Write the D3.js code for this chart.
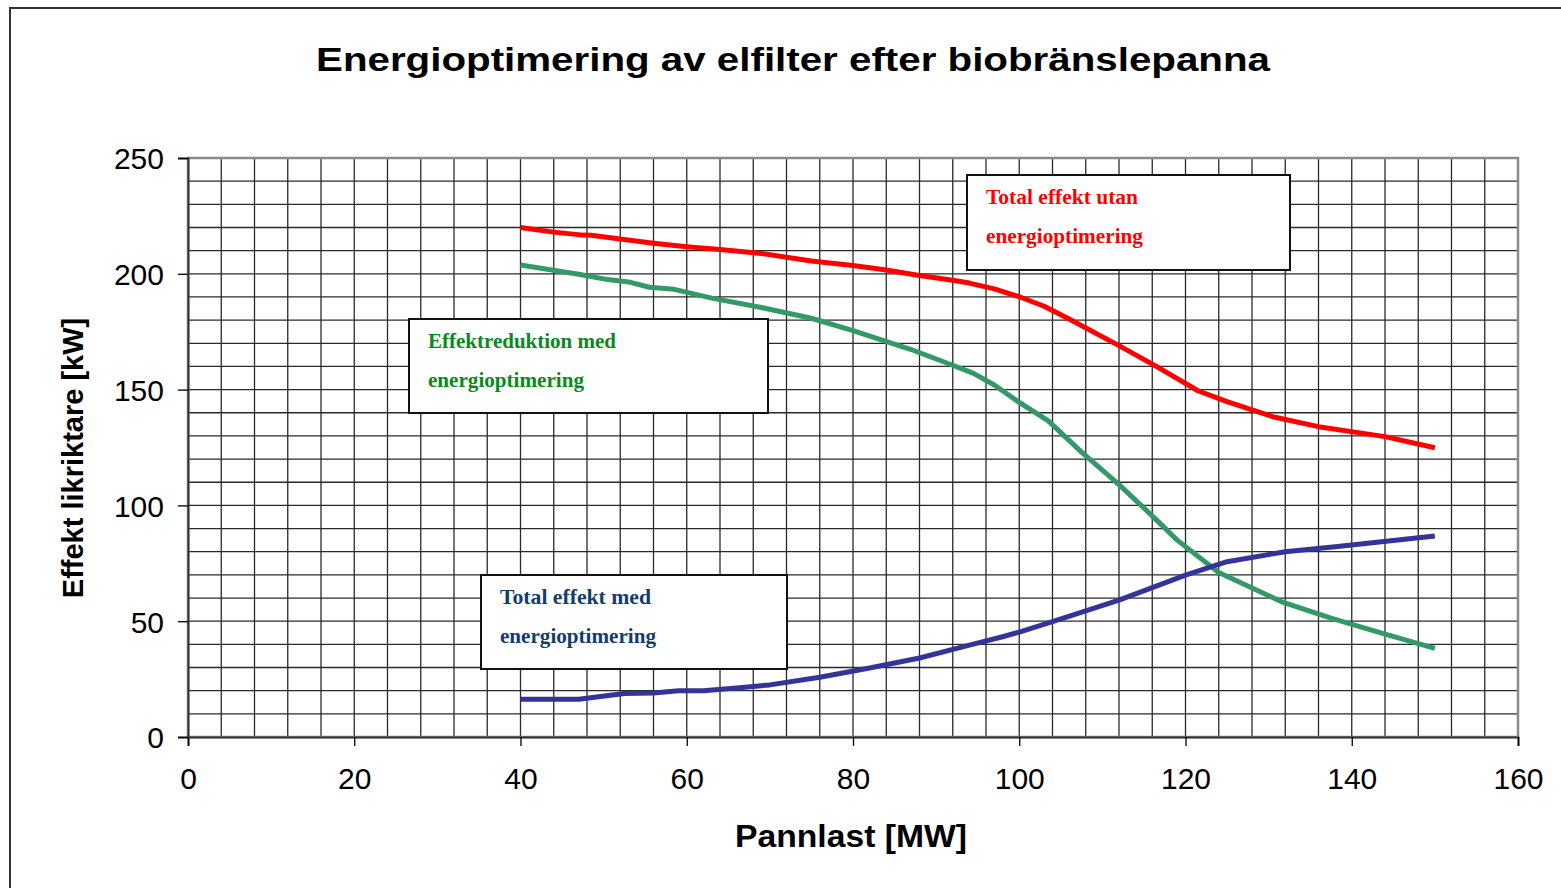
<!DOCTYPE html>
<html>
<head>
<meta charset="utf-8">
<script src="https://cdn.jsdelivr.net/npm/d3@7/dist/d3.min.js"></script>
<style>
  html, body { margin: 0; padding: 0; background: #fff; }
  svg { display: block; }
</style>
</head>
<body>
<svg id="chart" width="1561" height="888"></svg>
<script>
// ---- Data ----
const title = "Energioptimering av elfilter efter biobränslepanna";
const xTitle = "Pannlast [MW]";
const yTitle = "Effekt likriktare [kW]";
const xTicks = [0, 20, 40, 60, 80, 100, 120, 140, 160];
const yTicks = [0, 50, 100, 150, 200, 250];

const redName = ["Total effekt utan", "energioptimering"];
const redX = [40, 44, 47.5, 48.5, 52, 56, 60, 64, 69, 75, 80, 84, 88, 92, 94, 97, 100, 103, 106, 112, 116.5, 121.5, 125, 130.5, 136, 144, 150];
const redY = [220, 218, 216.7, 216.6, 215, 213.2, 211.7, 210.5, 208.8, 205.5, 203.6, 201.6, 199.3, 197.2, 196, 193.5, 190.1, 186, 180.5, 169, 160, 149.5, 144.8, 138.3, 134, 129.7, 124.9];

const greenName = ["Effektreduktion med", "energioptimering"];
const greenX = [40, 47, 50.5, 53, 55.5, 58.5, 63, 68.5, 75, 80, 87, 92, 94.5, 97, 100, 103.5, 107.5, 112, 116, 119, 124, 131.5, 137.5, 143.5, 150];
const greenY = [203.8, 199.8, 197.5, 196.5, 194.2, 193.3, 189.5, 185.8, 180.8, 175.5, 167.3, 160.5, 157, 152, 144.5, 136.5, 123, 109, 95.5, 85, 71, 58.5, 51.3, 45, 38.3];

const blueName = ["Total effekt med", "energioptimering"];
const blueX = [40, 47, 52.5, 56, 59, 62, 66, 70, 76, 82, 88, 94, 98, 100, 104, 112, 120, 125, 132, 138, 150];
const blueY = [16.3, 16.3, 18.8, 19, 20, 20, 21.2, 22.5, 25.8, 29.8, 34.1, 39.7, 43.3, 45.3, 49.8, 59.1, 69.9, 75.7, 80, 82.1, 86.8];

// ---- Layout ----
const svg = d3.select("#chart");
const plot = { left: 188, right: 1518, top: 158, bottom: 737 };

const x = d3.scaleLinear().domain([0, 160]).range([plot.left, plot.right]);
const y = d3.scaleLinear().domain([0, 250]).range([plot.bottom, plot.top]);

// outer border
svg.append("rect")
  .attr("x", 10).attr("y", 8).attr("width", 1560).attr("height", 900)
  .attr("fill", "#fff").attr("stroke", "#333").attr("stroke-width", 2);

// title
svg.append("text")
  .attr("x", 793).attr("y", 71)
  .attr("text-anchor", "middle")
  .attr("font-family", "Liberation Sans, Arial, sans-serif")
  .attr("font-weight", "bold").attr("font-size", 34)
  .attr("textLength", 954).attr("lengthAdjust", "spacingAndGlyphs")
  .attr("fill", "#000")
  .text(title);

// plot background
svg.append("rect")
  .attr("x", plot.left).attr("y", plot.top)
  .attr("width", plot.right - plot.left).attr("height", plot.bottom - plot.top)
  .attr("fill", "#fff");

// grid
const gridG = svg.append("g");
gridG.selectAll("line.v").data(d3.range(4, 160, 4)).enter().append("line")
  .attr("x1", d => x(d)).attr("x2", d => x(d))
  .attr("y1", plot.top).attr("y2", plot.bottom)
  .attr("stroke", "#2a2a2a").attr("stroke-width", 1.3);
gridG.selectAll("line.h").data(d3.range(10, 250, 10)).enter().append("line")
  .attr("x1", plot.left).attr("x2", plot.right)
  .attr("y1", d => y(d)).attr("y2", d => y(d))
  .attr("stroke", "#2a2a2a").attr("stroke-width", 1.3);

// plot border (gray)
svg.append("rect")
  .attr("x", plot.left).attr("y", plot.top)
  .attr("width", plot.right - plot.left).attr("height", plot.bottom - plot.top)
  .attr("fill", "none").attr("stroke", "#8a8a8a").attr("stroke-width", 2.5);

// axes
const xAxis = d3.axisBottom(x).tickValues(xTicks).tickSize(9).tickPadding(22).tickFormat(d3.format("d"));
const yAxis = d3.axisLeft(y).tickValues(yTicks).tickSize(10).tickPadding(14).tickFormat(d3.format("d"));

const gx = svg.append("g").attr("transform", `translate(0,${plot.bottom})`).call(xAxis);
const gy = svg.append("g").attr("transform", `translate(${plot.left},0)`).call(yAxis);
[gx, gy].forEach(g => {
  g.select(".domain").attr("stroke", "#333").attr("stroke-width", 2);
  g.selectAll(".tick line").attr("stroke", "#000").attr("stroke-width", 1.3);
  g.selectAll(".tick text")
    .attr("font-family", "Liberation Sans, Arial, sans-serif")
    .attr("font-size", 30).attr("fill", "#000");
});
gx.selectAll(".tick text").attr("dy", "0.71em");
gy.selectAll(".tick text").attr("dy", "0.36em");

// axis titles
svg.append("text")
  .attr("x", 851).attr("y", 847)
  .attr("text-anchor", "middle")
  .attr("font-family", "Liberation Sans, Arial, sans-serif")
  .attr("font-weight", "bold").attr("font-size", 31)
  .attr("textLength", 232).attr("lengthAdjust", "spacingAndGlyphs")
  .text(xTitle);
svg.append("text")
  .attr("transform", "translate(83,458) rotate(-90)")
  .attr("text-anchor", "middle")
  .attr("font-family", "Liberation Sans, Arial, sans-serif")
  .attr("font-weight", "bold").attr("font-size", 29)
  .text(yTitle);

// lines
const line = d3.line().x(d => x(d[0])).y(d => y(d[1]));
const series = [
  { xs: redX, ys: redY, color: "#ff0000" },
  { xs: greenX, ys: greenY, color: "#339966" },
  { xs: blueX, ys: blueY, color: "#333399" }
];
series.forEach(s => {
  const pts = s.xs.map((v, i) => [v, s.ys[i]]);
  svg.append("path").datum(pts)
    .attr("d", line)
    .attr("fill", "none")
    .attr("stroke", s.color)
    .attr("stroke-width", 5)
    .attr("stroke-linejoin", "round");
});

// labels (text boxes)
const boxes = [
  { x: 967, y: 175, w: 323, h: 95, lines: redName, color: "#ff0000", tx: 986, b1: 204, b2: 243, widths: [152, 157] },
  { x: 409, y: 319, w: 359, h: 94, lines: greenName, color: "#0a8a1a", tx: 428, b1: 348, b2: 387, widths: [188, 156] },
  { x: 481, y: 575, w: 306, h: 94, lines: blueName, color: "#123d6e", tx: 500, b1: 604, b2: 643, widths: [151, 156] }
];
boxes.forEach(b => {
  svg.append("rect")
    .attr("x", b.x).attr("y", b.y).attr("width", b.w).attr("height", b.h)
    .attr("fill", "#fff").attr("stroke", "#111").attr("stroke-width", 2);
  [b.b1, b.b2].forEach((by, i) => {
    svg.append("text")
      .attr("x", b.tx).attr("y", by)
      .attr("font-family", "Liberation Serif, DejaVu Serif, serif")
      .attr("font-weight", "bold").attr("font-size", 21)
      .attr("fill", b.color)
      .attr("textLength", b.widths[i]).attr("lengthAdjust", "spacingAndGlyphs")
      .text(b.lines[i]);
  });
});
</script>
</body>
</html>
